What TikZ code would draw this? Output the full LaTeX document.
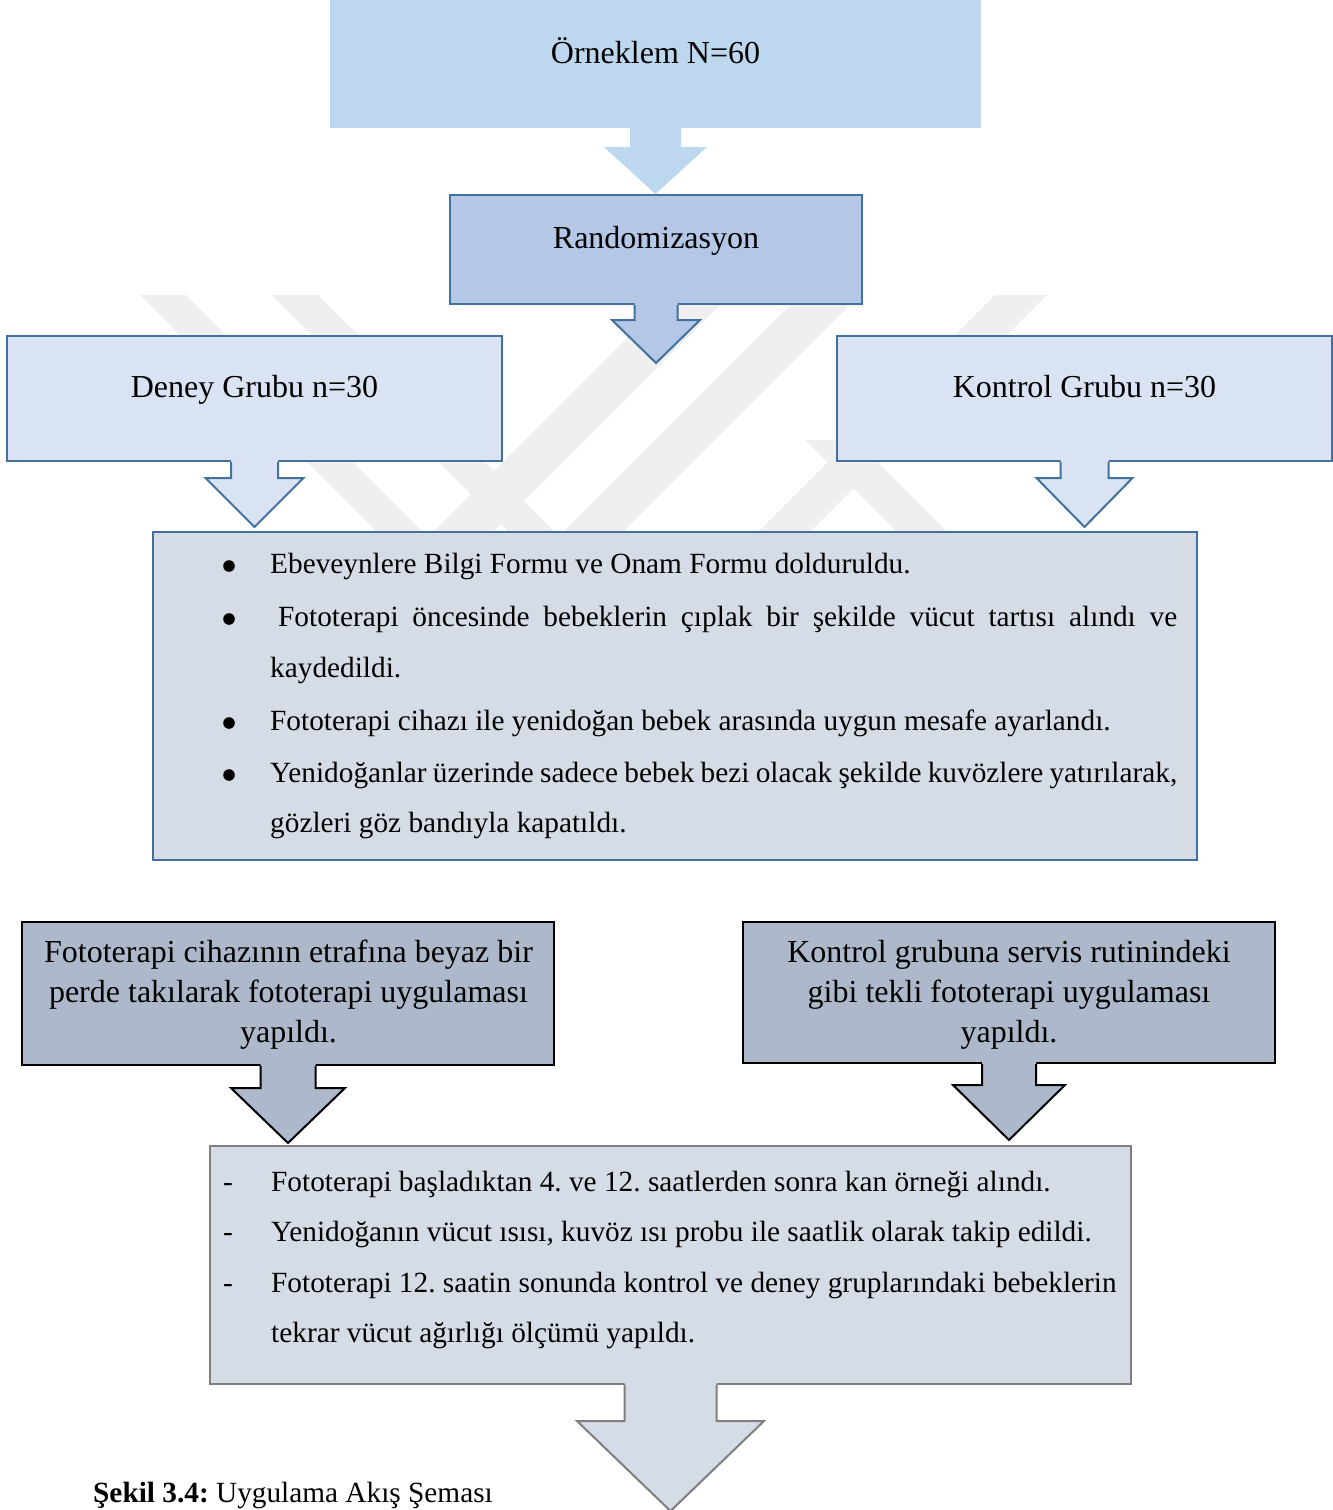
\documentclass[tikz,border=0pt]{standalone}
\usepackage{fontspec}
\setmainfont{Liberation Serif}
\usetikzlibrary{calc}
\frenchspacing
\definecolor{topblue}{HTML}{BDD7EE}
\definecolor{randblue}{HTML}{B4C7E7}
\definecolor{grpblue}{HTML}{DAE3F3}
\definecolor{listgray}{HTML}{D6DCE5}
\definecolor{actgray}{HTML}{ADB9CA}
\definecolor{edgeblue}{HTML}{41719C}
\definecolor{edgegray}{HTML}{7F7F7F}
\definecolor{wmgray}{HTML}{EFEFEF}
\newcommand\blockarrow[6]{%
  \fill[#1,draw=none] let \p1=(#2),\p2=(#3) in
    (\x1-#4pt,\y1+2pt) -- (\x1-#4pt,\y2+#6pt) -- (\x1-#5pt,\y2+#6pt) -- (\x1,\y2)
    -- (\x1+#5pt,\y2+#6pt) -- (\x1+#4pt,\y2+#6pt) -- (\x1+#4pt,\y1+2pt) -- cycle;
  \draw[#1,fill=none] let \p1=(#2),\p2=(#3) in
    (\x1-#4pt,\y1) -- (\x1-#4pt,\y2+#6pt) -- (\x1-#5pt,\y2+#6pt) -- (\x1,\y2)
    -- (\x1+#5pt,\y2+#6pt) -- (\x1+#4pt,\y2+#6pt) -- (\x1+#4pt,\y1);
}
\begin{document}
\begin{tikzpicture}[x=1pt,y=-1pt,
  box/.style={inner sep=0pt,line width=2pt},
  topbox/.style={box,fill=topblue,draw=none},
  randbox/.style={box,fill=randblue,draw=edgeblue},
  grpbox/.style={box,fill=grpblue,draw=edgeblue},
  listbox/.style={box,fill=listgray,draw=edgeblue},
  actbox/.style={box,fill=actgray,draw=black},
  endbox/.style={box,fill=listgray,draw=edgegray},
  toparr/.style={fill=topblue,draw=none},
  randarr/.style={fill=randblue,draw=edgeblue,line width=2pt,line join=miter},
  grparr/.style={fill=grpblue,draw=edgeblue,line width=2pt,line join=miter},
  actarr/.style={fill=actgray,draw=black,line width=2pt,line join=miter},
  endarr/.style={fill=listgray,draw=edgegray,line width=2pt,line join=miter},
  hdr/.style={inner sep=0pt,anchor=base,font=\fontsize{32}{40}\selectfont},
  txt/.style={inner sep=0pt,anchor=base west,font=\fontsize{29.3}{36}\selectfont},
  ctxt/.style={inner sep=0pt,anchor=base,font=\fontsize{32}{40}\selectfont},
  wmband/.style={fill=wmgray,draw=none}]
\useasboundingbox (0,0) rectangle (1333,1510);
\fill[white] (0,0) rectangle (1333,1510);
% watermark
\begin{scope}
\clip (130,294) rectangle (1065,533);
\fill[wmband] (140,295) -- (186,295) -- (426,535) -- (380,535) -- cycle;
\fill[wmband] (272,295) -- (318,295) -- (558,535) -- (512,535) -- cycle;
\fill[wmband] (430,535) -- (490,535) -- (730,295) -- (670,295) -- cycle;
\fill[wmband] (560,535) -- (620,535) -- (860,295) -- (800,295) -- cycle;
\fill[wmband] (755,535) -- (807,535) -- (1047,295) -- (995,295) -- cycle;
\fill[wmband] (805,440) -- (855,440) -- (950,535) -- (900,535) -- cycle;
\end{scope}
% boxes
\node[topbox,minimum width=651pt,minimum height=128pt] (top) at (655.5,64) {};
\node[randbox,minimum width=412pt,minimum height=109pt] (rand) at (656,249.5) {};
\node[grpbox,minimum width=495pt,minimum height=125pt] (deney) at (254.5,398.5) {};
\node[grpbox,minimum width=495pt,minimum height=125pt] (kontrol) at (1084.5,398.5) {};
\node[listbox,minimum width=1044pt,minimum height=328pt] (bul) at (675,696) {};
\node[actbox,minimum width=532pt,minimum height=143pt] (gl) at (288,993.5) {};
\node[actbox,minimum width=532pt,minimum height=141pt] (gr) at (1009,992.5) {};
\node[endbox,minimum width=921pt,minimum height=238pt] (bot) at (670.5,1264.5) {};
% arrow tips
\coordinate (t2) at (656,363);
\coordinate (tden) at (254.5,527);
\coordinate (tkon) at (1084.5,527);
\coordinate (tgl) at (288,1143);
\coordinate (tgr) at (1009,1140);
\coordinate (tend) at (671,1511);
% arrows
\blockarrow{toparr}{top.south}{rand.north}{25.5}{51.5}{47}
\blockarrow{randarr}{rand.south}{t2}{21.5}{44}{43}
\blockarrow{grparr}{deney.south}{tden}{23.5}{49}{49}
\blockarrow{grparr}{kontrol.south}{tkon}{24}{48}{49}
\blockarrow{actarr}{gl.south}{tgl}{27.5}{57}{55}
\blockarrow{actarr}{gr.south}{tgr}{27}{56}{55}
\blockarrow{endarr}{bot.south}{tend}{46}{93.5}{90}
% texts
\node[hdr] (ttop) at (655.5,63) {Örneklem N=60};
\node[hdr] (trand) at (656,248) {Randomizasyon};
\node[hdr] (tdeney) at (254.5,397) {Deney Grubu n=30};
\node[hdr] (tkontrol) at (1084.5,397) {Kontrol Grubu n=30};
% bullet list
\foreach \yy in {573,626,730,782}{\fill (229,\yy-7) circle (5.8);}
\node[txt] (b1) at (270,573) {Ebeveynlere Bilgi Formu ve Onam Formu dolduruldu.};
\node[txt] (b2) at (278,626) {\makebox[899pt][s]{Fototerapi öncesinde bebeklerin çıplak bir şekilde vücut tartısı alındı ve}};
\node[txt] (b2b) at (270,677) {kaydedildi.};
\node[txt] (b3) at (270,730) {Fototerapi cihazı ile yenidoğan bebek arasında uygun mesafe ayarlandı.};
\node[txt] (b4) at (270,782) {\makebox[907pt][s]{Yenidoğanlar üzerinde sadece bebek bezi olacak şekilde kuvözlere yatırılarak,}};
\node[txt] (b4b) at (270,832) {gözleri göz bandıyla kapatıldı.};
% action boxes
\node[ctxt] (gl1) at (288.5,962) {Fototerapi cihazının etrafına beyaz bir};
\node[ctxt] (gl2) at (288.5,1002) {perde takılarak fototerapi uygulaması};
\node[ctxt] (gl3) at (288.5,1042) {yapıldı.};
\node[ctxt] (gr1) at (1009,962) {Kontrol grubuna servis rutinindeki};
\node[ctxt] (gr2) at (1009,1002) {gibi tekli fototerapi uygulaması};
\node[ctxt] (gr3) at (1009,1042) {yapıldı.};
% end box
\foreach \yy/\nm in {1191/d1,1241/d2,1292/d3}{\node[inner sep=0pt,anchor=base,font=\fontsize{29.3}{36}\selectfont] (\nm) at (228,\yy) {-};}
\node[txt] (e1) at (271,1191) {Fototerapi başladıktan 4. ve 12. saatlerden sonra kan örneği alındı.};
\node[txt] (e2) at (271,1241) {Yenidoğanın vücut ısısı, kuvöz ısı probu ile saatlik olarak takip edildi.};
\node[txt] (e3) at (271,1292) {Fototerapi 12. saatin sonunda kontrol ve deney gruplarındaki bebeklerin};
\node[txt] (e4) at (271,1342) {tekrar vücut ağırlığı ölçümü yapıldı.};
% caption
\node[txt] (cap) at (93,1502) {\textbf{Şekil 3.4:} Uygulama Akış Şeması};
\end{tikzpicture}
\end{document}
